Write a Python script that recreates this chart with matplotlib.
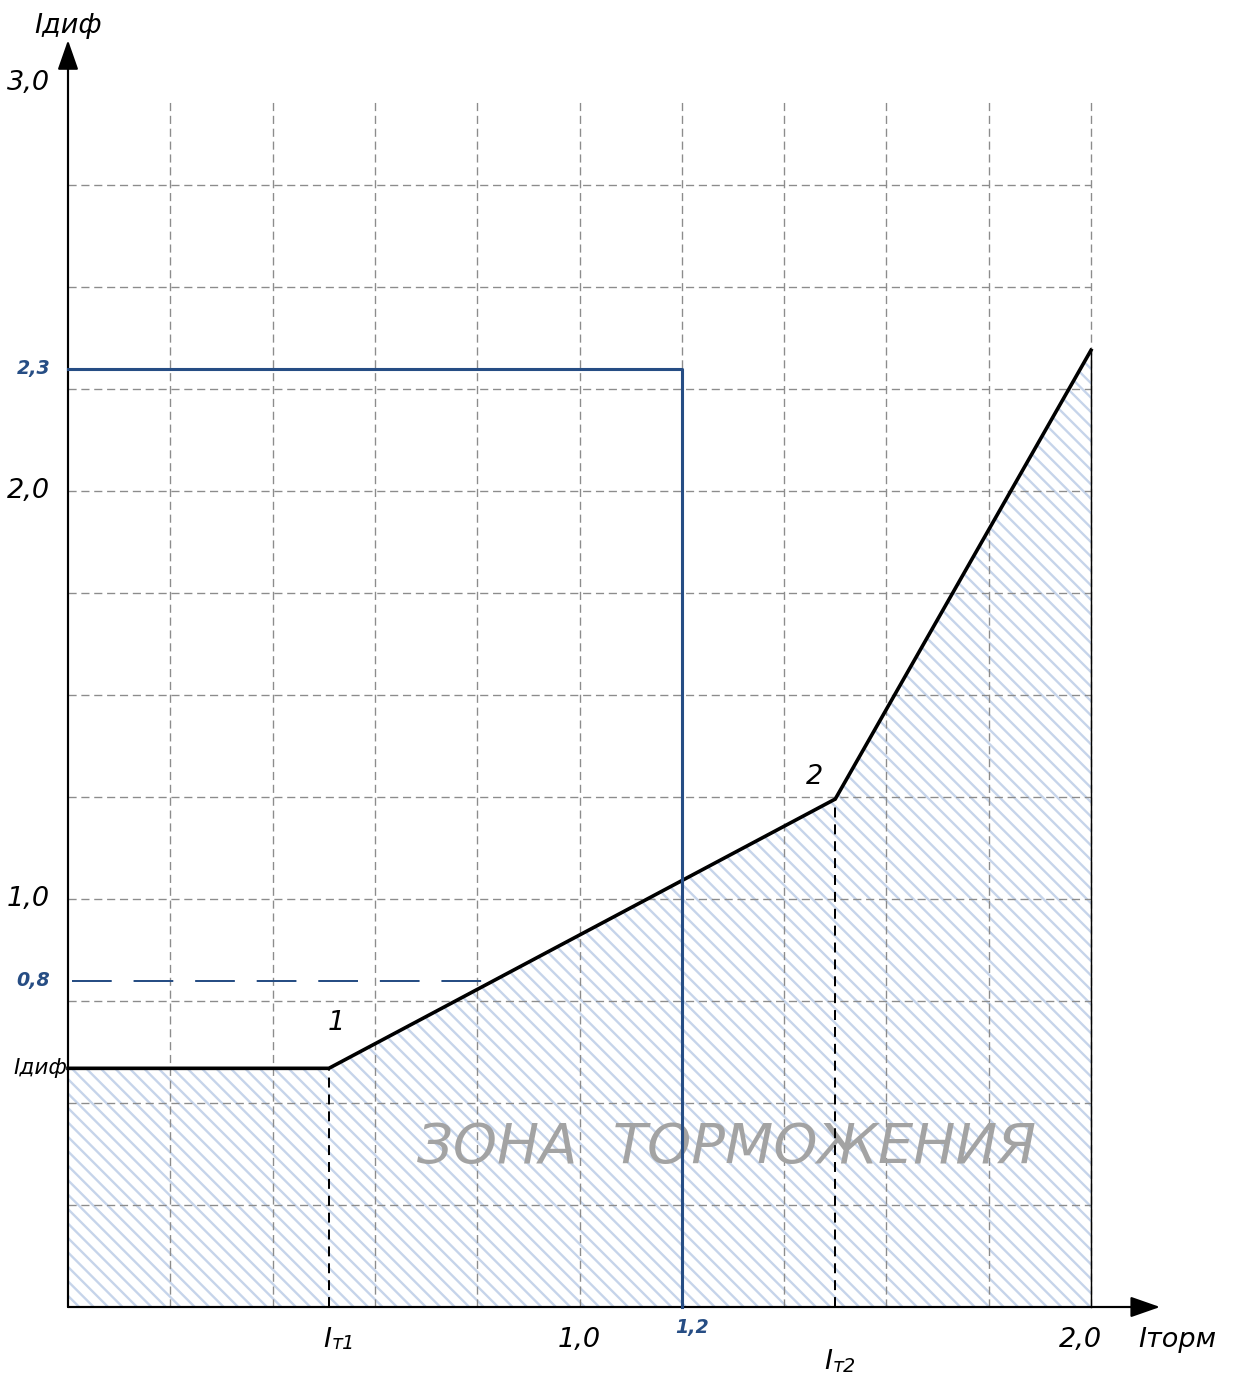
import numpy as np
import matplotlib.pyplot as plt

# characteristic break points (Iторм, Iдиф)
curve_x = [0.0, 0.51, 1.5, 2.0]
curve_y = [0.585, 0.585, 1.245, 2.345]
grid_x = [0.2, 0.4, 0.6, 0.8, 1.0, 1.2, 1.4, 1.6, 1.8, 2.0]
grid_y = [0.25, 0.5, 0.75, 1.0, 1.25, 1.5, 1.75, 2.0, 2.25, 2.5, 2.75]
blue_x = 1.2
blue_y = 2.3
dash_y = 0.8
dash_end = 0.82
zone_text = "ЗОНА  ТОРМОЖЕНИЯ"

BLUE = "#264d84"
GRID = "#8c8c8c"
HATCH = "#c6d4ea"
FONT = ["DejaVu Sans"]

plt.rcParams["hatch.linewidth"] = 1.3

DPI = 130
fig = plt.figure(figsize=(1240 / DPI, 1383 / DPI), dpi=DPI)
ax = fig.add_axes([0, 0, 1, 1])
ax.set_xlim(-68 / 511.5, (1240 - 68) / 511.5)
ax.set_ylim((1307 - 1383) / 408, 1307 / 408)
ax.axis("off")

# hatched zone under the characteristic
xs = np.array(curve_x)
ys = np.array(curve_y)
ax.fill_between(xs, 0, ys, facecolor="none", edgecolor=HATCH, linewidth=0,
                hatch="\\\\\\", zorder=1)

# dashed grid
for gx in grid_x:
    ax.plot([gx, gx], [0, 2.958], color=GRID, lw=0.75, dashes=(6, 3.5), zorder=2)
for gy in grid_y:
    ax.plot([0, 2.0], [gy, gy], color=GRID, lw=0.75, dashes=(6, 3.5), zorder=2)

# axes with arrows
arrow = dict(arrowstyle="-|>,head_length=1.0,head_width=0.35",
             lw=1.2, color="k", mutation_scale=14, shrinkA=0, shrinkB=0)
ax.annotate("", xy=(0, 3.105), xytext=(0, 0), arrowprops=arrow, zorder=5)
ax.annotate("", xy=(2.135, 0), xytext=(0, 0), arrowprops=arrow, zorder=5)

# characteristic
ax.plot(xs, ys, color="k", lw=2.0, solid_joinstyle="miter", zorder=6)
ax.plot([2.0, 2.0], [0, curve_y[-1]], color="k", lw=0.8, zorder=6)
ax.plot([curve_x[1]] * 2, [0, curve_y[1]], color="k", lw=1.1, dashes=(5, 3.5), zorder=6)
ax.plot([curve_x[2]] * 2, [0, curve_y[2]], color="k", lw=1.1, dashes=(5, 3.5), zorder=6)

# blue settings
ax.plot([0, blue_x, blue_x], [blue_y, blue_y, 0], color=BLUE, lw=1.7, zorder=7)
ax.plot([0.008, dash_end], [dash_y, dash_y], color=BLUE, lw=1.1, dashes=(20, 11), zorder=7)

tk = dict(family=FONT, style="italic", fontsize=15, color="k")
bl = dict(family=FONT, style="italic", fontsize=10.5, color=BLUE, fontweight="bold")
sub = dict(family=FONT, style="italic", fontsize=10.5, color="k")

# y labels
ax.text(-0.035, 3.0, "3,0", ha="right", va="center", **tk)
ax.text(-0.035, 2.0, "2,0", ha="right", va="center", **tk)
ax.text(-0.035, 1.0, "1,0", ha="right", va="center", **tk)
ax.text(-0.035, blue_y, "2,3", ha="right", va="center", **bl)
ax.text(-0.035, dash_y, "0,8", ha="right", va="center", **bl)
ax.text(-0.107, curve_y[0], "Iдиф", ha="left", va="center",
        family=FONT, style="italic", fontsize=12, color="k")
ax.text(0.0, 3.14, "Iдиф", ha="center", va="center", **tk)

# x labels
ax.text(1.0, -0.08, "1,0", ha="center", va="center", **tk)
ax.text(1.979, -0.08, "2,0", ha="center", va="center", **tk)
ax.text(blue_x + 0.02, -0.05, "1,2", ha="center", va="center", **bl)
ax.text(2.092, -0.08, "Iторм", ha="left", va="center", **tk)
ax.text(curve_x[1] + 0.005, -0.08, "I", ha="right", va="center", **tk)
ax.text(curve_x[1] + 0.005, -0.09, "т1", ha="left", va="center", **sub)
ax.text(curve_x[2] - 0.005, -0.135, "I", ha="right", va="center", **tk)
ax.text(curve_x[2] - 0.005, -0.145, "т2", ha="left", va="center", **sub)

# point numbers
ax.text(curve_x[1] + 0.015, 0.695, "1", ha="center", va="center", **tk)
ax.text(curve_x[2] - 0.04, 1.3, "2", ha="center", va="center", **tk)

# zone label
ax.text(1.287, 0.39, zone_text, ha="center", va="center", family=FONT,
        style="italic", fontsize=31, color="#a3a3a3", zorder=4)

plt.savefig("out.png", dpi=DPI)
